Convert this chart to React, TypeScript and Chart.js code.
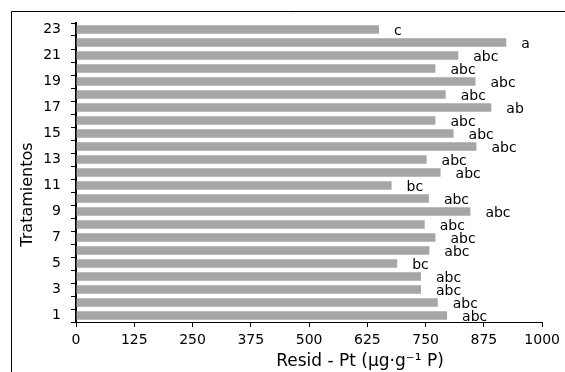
import React, { useEffect, useRef } from "react";
import { Chart, registerables } from "chart.js";

Chart.register(...registerables);

const categories = ["1","2","3","4","5","6","7","8","9","10","11","12","13","14","15","16","17","18","19","20","21","22","23"];
const values = [796, 776, 740, 740, 689, 758, 771, 748, 846, 757, 677, 782, 752, 859, 810, 771, 891, 793, 857, 771, 820, 923, 650];
const letters = ["abc","abc","abc","abc","bc","abc","abc","abc","abc","abc","bc","abc","abc","abc","abc","abc","ab","abc","abc","abc","abc","a","c"];
const xTicks = [0, 125, 250, 375, 500, 625, 750, 875, 1000];
const xTitle = "Resid - Pt (µg·g⁻¹ P)";
const yTitle = "Tratamientos";

const FONT = "'DejaVu Sans', sans-serif";

export default function App() {
  const ref = useRef<HTMLCanvasElement>(null);
  useEffect(() => {
    document.body.style.margin = "0";
    const canvas = ref.current!;
    const decor = {
      id: "decor",
      afterDraw(chart: any) {
        const ctx = chart.ctx;
        const meta = chart.getDatasetMeta(0);
        ctx.save();
        ctx.fillStyle = "#000";
        ctx.font = `14px ${FONT}`;
        ctx.textAlign = "left";
        ctx.textBaseline = "middle";
        meta.data.forEach((el: any, i: number) => {
          ctx.fillText(letters[i], el.x + 15, el.y + 2);
        });
        // frame
        ctx.strokeStyle = "#000";
        ctx.lineWidth = 1;
        ctx.beginPath();
        ctx.moveTo(11.5, chart.height);
        ctx.lineTo(11.5, 11.5);
        ctx.lineTo(chart.width, 11.5);
        ctx.stroke();
        // x title
        const ca = chart.chartArea;
        ctx.font = `17px ${FONT}`;
        ctx.textAlign = "center";
        ctx.textBaseline = "middle";
        ctx.fillText(xTitle, ca.left + 284, ca.bottom + 40);
        // y title
        ctx.font = `16px ${FONT}`;
        ctx.translate(28, (ca.top + ca.bottom) / 2 + 22);
        ctx.rotate(-Math.PI / 2);
        ctx.fillText(yTitle, 0, 0);
        ctx.restore();
      },
    };
    const chart = new Chart(canvas, {
      type: "bar",
      data: {
        labels: categories,
        datasets: [
          {
            data: values,
            backgroundColor: "#a6a6a6",
            borderWidth: 0,
            barPercentage: 0.65,
            categoryPercentage: 1,
          },
        ],
      },
      options: {
        indexAxis: "y",
        responsive: false,
        animation: false,
        devicePixelRatio: 1,
        layout: { padding: { top: 23, right: 22, left: 0, bottom: 0 } },
        plugins: { legend: { display: false }, tooltip: { enabled: false } },
        scales: {
          x: {
            type: "linear",
            min: 0,
            max: 1000,
            afterFit: (s: any) => { s.height = 50; },
            afterBuildTicks: (s: any) => { s.ticks = xTicks.map((v) => ({ value: v })); },
            ticks: {
              color: "#000",
              font: { family: FONT, size: 14 },
              padding: 5,
              maxRotation: 0,
              callback: (v: any) => String(v),
            },
            grid: { drawOnChartArea: false, drawTicks: true, tickLength: 5, color: "#000", lineWidth: 1 },
            border: { display: true, color: "#000", width: 1 },
          },
          y: {
            type: "category",
            reverse: true,
            offset: true,
            afterFit: (s: any) => { s.width = 76; },
            ticks: {
              autoSkip: false,
              color: "#000",
              font: { family: FONT, size: 14 },
              padding: 10,
              callback: (_v: any, i: number) => (i % 2 === 0 ? categories[i] : ""),
            },
            grid: { offset: true, drawOnChartArea: false, drawTicks: true, tickLength: 5, color: "#000", lineWidth: 1 },
            border: { display: true, color: "#000", width: 2 },
          },
        },
      },
      plugins: [decor],
    });
    return () => chart.destroy();
  }, []);
  return <canvas ref={ref} width={565} height={372} style={{ display: "block" }} />;
}
